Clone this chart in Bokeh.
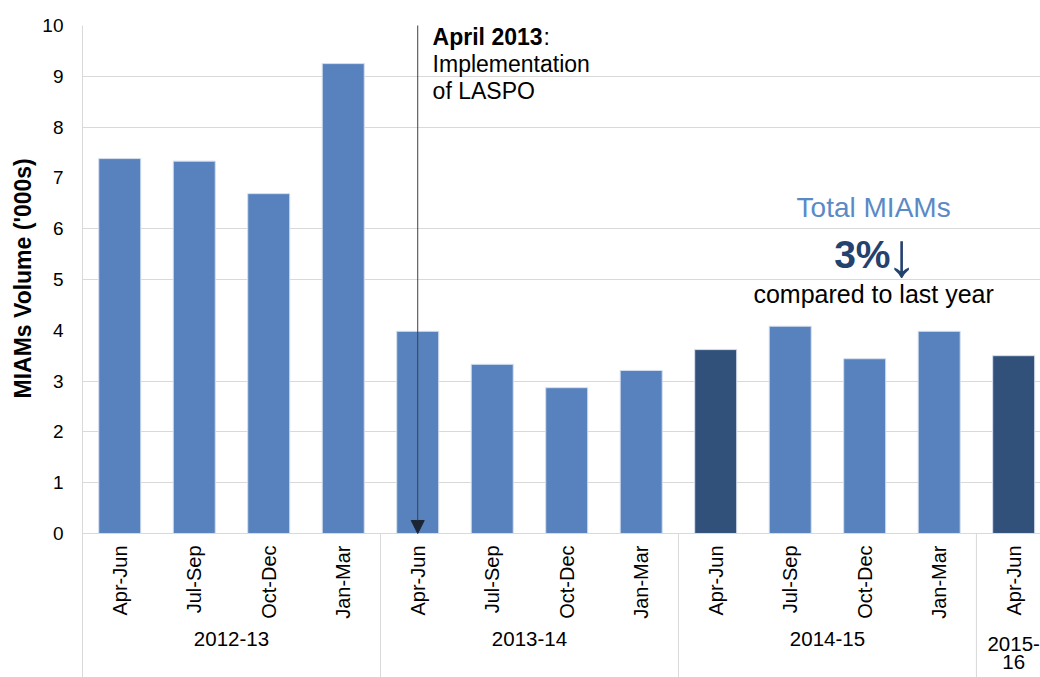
from bokeh.plotting import figure
from bokeh.models import (Range1d, FixedTicker, Label, Arrow, NormalHead, Span, Title)
from bokeh.embed import file_html
from bokeh.resources import INLINE
import math

# ---- data ----
quarters = ["Apr-Jun", "Jul-Sep", "Oct-Dec", "Jan-Mar",
            "Apr-Jun", "Jul-Sep", "Oct-Dec", "Jan-Mar",
            "Apr-Jun", "Jul-Sep", "Oct-Dec", "Jan-Mar",
            "Apr-Jun"]
years = ["2012-13", "2013-14", "2014-15", "2015-\n16"]
year_sizes = [4, 4, 4, 1]
volumes = [7.38, 7.33, 6.69, 9.25, 3.98, 3.33, 2.87, 3.21, 3.62, 4.08, 3.44, 3.98, 3.50]
highlight = [False, False, False, False, False, False, False, False, True, False, False, False, True]
y_ticks = [0, 1, 2, 3, 4, 5, 6, 7, 8, 9, 10]
grid_ticks = [1, 2, 3, 5, 6, 8, 9]

LIGHT = "#5882BE"
DARK = "#31517B"
GRID = "#D9D9D9"
FONT = "Liberation Sans"
Y_BOTTOM = -2.835      # frame extends below zero to hold the category labels

xs = [i + 0.5 for i in range(len(volumes))]
colors = [DARK if h else LIGHT for h in highlight]

starts = []
acc = 0
for s in year_sizes:
    starts.append(acc)
    acc += s
centers = [st + s / 2 for st, s in zip(starts, year_sizes)]

p = figure(width=1040, height=677, x_range=Range1d(0, 12.86), y_range=Range1d(Y_BOTTOM, 10),
           output_backend="svg", toolbar_location=None, x_axis_type=None,
           min_border_left=82, min_border_top=25, min_border_right=0, min_border_bottom=0)
p.outline_line_color = None
p.background_fill_color = "white"
p.border_fill_color = "white"

p.vbar(x=xs, top=volumes, width=0.564, fill_color=colors, line_color="#D5DFEE", line_width=1)

# y axis
ya = p.yaxis[0]
ya.ticker = FixedTicker(ticks=y_ticks)
ya.axis_line_color = GRID
ya.major_tick_line_color = None
ya.major_tick_out = 0
ya.major_tick_in = 0
ya.minor_tick_line_color = None
ya.major_label_standoff = 19
ya.major_label_text_font = FONT
ya.major_label_text_font_size = "19px"
ya.major_label_text_color = "black"

p.add_layout(Title(text="MIAMs Volume ('000s)", align="left", offset=279, standoff=8,
                   text_font=FONT, text_font_size="23px", text_font_style="bold",
                   text_color="black"), "left")

p.ygrid.ticker = FixedTicker(ticks=grid_ticks)
p.ygrid.grid_line_color = GRID
p.xgrid.grid_line_color = None

# category axis drawn inside the extended frame
p.add_layout(Span(location=0, dimension="width", line_color=GRID, line_width=1))
p.text(x=xs, y=[-0.236] * len(xs), text=quarters, angle=math.pi / 2,
       text_align="right", text_baseline="middle", text_font={"value": FONT},
       text_font_size="20px", text_color="black")
p.text(x=centers, y=[-1.94] * len(centers), text=years, text_align="center",
       text_baseline="top", text_line_height=0.8, text_font={"value": FONT},
       text_font_size="20.5px", text_color="black")
p.segment(x0=starts, y0=[0] * len(starts), x1=starts, y1=[Y_BOTTOM] * len(starts),
          line_color=GRID, line_width=1)

# annotation: LASPO arrow
p.add_layout(Arrow(x_start=4.5, y_start=10.06, x_end=4.5, y_end=0,
                   line_color="#404040", line_width=1,
                   end=NormalHead(size=13, fill_color="#1C2533", line_color="#1C2533")))
p.add_layout(Label(x=4.70, y=9.78, text="April 2013", text_font=FONT, text_font_size="23px",
                   text_font_style="bold", text_color="black", text_baseline="alphabetic"))
p.add_layout(Label(x=6.19, y=9.78, text=":", text_font=FONT, text_font_size="23px",
                   text_color="black", text_baseline="alphabetic"))
p.add_layout(Label(x=4.70, y=9.24, text="Implementation", text_font=FONT, text_font_size="23px",
                   text_color="black", text_baseline="alphabetic"))
p.add_layout(Label(x=4.70, y=8.71, text="of LASPO", text_font=FONT, text_font_size="23px",
                   text_color="black", text_baseline="alphabetic"))

# Total MIAMs callout
p.add_layout(Label(x=10.62, y=6.42, text="Total MIAMs", text_font=FONT, text_font_size="28px",
                   text_color="#5A8AC6", text_align="center", text_baseline="alphabetic"))
p.add_layout(Label(x=10.09, y=5.49, text="3%", text_font=FONT, text_font_size="39px",
                   text_font_style="bold", text_color="#24426E", text_baseline="alphabetic"))
p.add_layout(Label(x=10.79, y=4.81, text="↓", text_font=FONT, text_font_size="62px",
                   text_color="#24426E", text_baseline="bottom"))
p.add_layout(Label(x=10.62, y=4.71, text="compared to last year", text_font=FONT,
                   text_font_size="25px", text_color="black", text_align="center",
                   text_baseline="alphabetic"))

open("out.html", "w").write(file_html(p, INLINE))
